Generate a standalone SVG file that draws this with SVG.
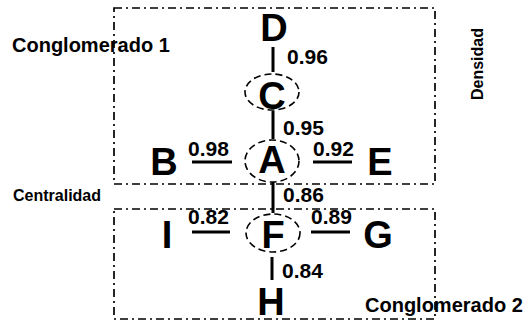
<svg xmlns="http://www.w3.org/2000/svg" width="532" height="323" viewBox="0 0 532 323">
<style>
.box{fill:none;stroke:#000;stroke-width:1.7;stroke-dasharray:8 4 2 4}
.ell{fill:none;stroke:#000;stroke-width:1.6;stroke-dasharray:7 4}
.edge{stroke:#000;stroke-width:3;fill:none}
.node{font-family:"Liberation Sans",Arial,sans-serif;font-weight:bold;font-size:38px;text-anchor:middle;fill:#000}
.lbl{font-family:"Liberation Sans",Arial,sans-serif;font-weight:bold;font-size:21px;fill:#000}
.cap{font-family:"Liberation Sans",Arial,sans-serif;font-weight:bold;fill:#000}
</style>
<rect id="conglomerado1" class="box" x="114" y="8" width="321" height="176"/>
<rect id="conglomerado2" class="box" x="114" y="209" width="321" height="110"/>
<text class="cap" x="12" y="52" font-size="20">Conglomerado 1</text>
<text class="cap" x="365" y="312" font-size="20">Conglomerado 2</text>
<text class="cap" x="13" y="201" font-size="16">Centralidad</text>
<text class="cap" x="483" y="100" font-size="16" transform="rotate(-90 483 100)">Densidad</text>
<g id="connectors">
<line class="edge" x1="273" y1="47" x2="273" y2="72"/>
<line class="edge" x1="273" y1="111" x2="273" y2="139"/>
<line class="edge" x1="273" y1="182" x2="273" y2="213"/>
<line class="edge" x1="272" y1="257" x2="272" y2="280"/>
<line class="edge" x1="192" y1="162" x2="232" y2="162"/>
<line class="edge" x1="313" y1="162" x2="352" y2="162"/>
<line class="edge" x1="192" y1="232" x2="230" y2="232"/>
<line class="edge" x1="311" y1="232" x2="350" y2="232"/>
<text class="lbl" x="287" y="64">0.96</text>
<text class="lbl" x="283" y="135">0.95</text>
<text class="lbl" x="188" y="156">0.98</text>
<text class="lbl" x="313" y="156">0.92</text>
<text class="lbl" x="283" y="202">0.86</text>
<text class="lbl" x="188" y="224">0.82</text>
<text class="lbl" x="311" y="224">0.89</text>
<text class="lbl" x="282" y="278">0.84</text>
</g>
<g id="D"><text class="node" x="274" y="41">D</text></g>
<g id="C"><ellipse class="ell" cx="272" cy="92" rx="27" ry="18"/><text class="node" x="272" y="109">C</text></g>
<g id="A"><ellipse class="ell" cx="272" cy="161" rx="27" ry="21"/><text class="node" x="272" y="173">A</text></g>
<g id="B"><text class="node" x="164" y="175">B</text></g>
<g id="E"><text class="node" x="380" y="175">E</text></g>
<g id="F"><ellipse class="ell" cx="273" cy="233" rx="27" ry="19"/><text class="node" x="273" y="248">F</text></g>
<g id="I"><text class="node" x="167" y="248">I</text></g>
<g id="G"><text class="node" x="378" y="248">G</text></g>
<g id="H"><text class="node" x="271" y="315" font-size="37px">H</text></g>
</svg>
